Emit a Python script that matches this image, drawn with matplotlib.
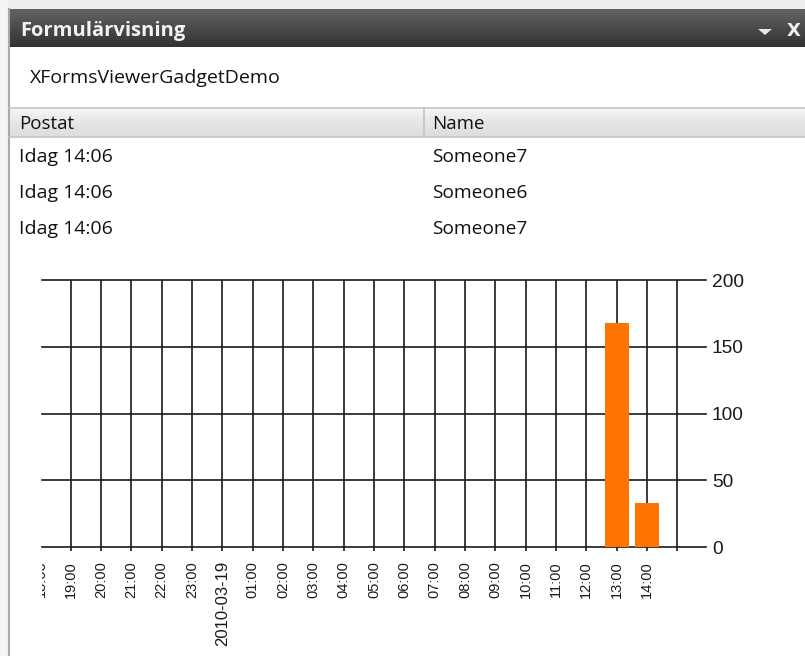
import matplotlib
matplotlib.use("Agg")
import matplotlib.pyplot as plt
import numpy as np
from matplotlib.patches import Rectangle, Polygon
from matplotlib.lines import Line2D
from matplotlib.transforms import Bbox
from matplotlib.colors import LinearSegmentedColormap

# ---------------- data ----------------
panel_title = "Formulärvisning"
form_name = "XFormsViewerGadgetDemo"
col_headers = ["Postat", "Name"]
posted = ["Idag 14:06", "Idag 14:06", "Idag 14:06"]
names = ["Someone7", "Someone6", "Someone7"]

hour_labels = ["18:00", "19:00", "20:00", "21:00", "22:00", "23:00", "2010-03-19",
               "01:00", "02:00", "03:00", "04:00", "05:00", "06:00", "07:00",
               "08:00", "09:00", "10:00", "11:00", "12:00", "13:00", "14:00", ""]
counts = [0, 0, 0, 0, 0, 0, 0, 0, 0, 0, 0, 0, 0, 0, 0, 0, 0, 0, 0, 168, 33, 0]
y_ticks = [0, 50, 100, 150, 200]

W, H = 805, 656
fig = plt.figure(figsize=(W / 100, H / 100), dpi=100)
fig.patch.set_facecolor("white")

def fx(x):
    return x / W

def fy(y):
    return 1 - y / H

ui_font = ["Open Sans", "DejaVu Sans"]

# background strips / borders
fig.add_artist(Rectangle((0, fy(9)), 1, 9 / H, transform=fig.transFigure,
                         facecolor="#eeeeee", edgecolor="none", zorder=0))
fig.add_artist(Rectangle((0, 0), fx(8), 1, transform=fig.transFigure,
                         facecolor="#f4f4f4", edgecolor="none", zorder=0))
fig.add_artist(Line2D([fx(9), fx(9)], [0, fy(9)], transform=fig.transFigure,
                      color="#a9a9a9", lw=1.5, zorder=3))

# header bar with gradient
hax = fig.add_axes([fx(9), fy(47), fx(W - 9), 38 / H])
grad = np.linspace(0, 1, 64).reshape(-1, 1)
cm = LinearSegmentedColormap.from_list("hdr", ["#636363", "#4a4a4a", "#323232"])
hax.imshow(grad, aspect="auto", cmap=cm, extent=[0, 1, 0, 1], origin="upper")
hax.set_axis_off()
fig.text(fx(20), fy(31), panel_title, color="#f2f2f2", fontsize=14.5,
         fontweight="bold", va="center", ha="left", family=ui_font)
fig.add_artist(Polygon([[fx(758), fy(29)], [fx(772), fy(29)], [fx(765), fy(35)]],
                       closed=True, transform=fig.transFigure,
                       facecolor="#e8e8e8", edgecolor="none", zorder=5))
fig.text(fx(794), fy(31.5), "X", color="#f0f0f0", fontsize=13, fontweight="bold",
         va="center", ha="center", family=["DejaVu Sans"])

# form name
fig.text(fx(30), fy(78), form_name, color="#111111", fontsize=14,
         va="center", ha="left", family=ui_font)

# table header
tax = fig.add_axes([fx(10), fy(137), fx(W - 10), 29 / H])
cm2 = LinearSegmentedColormap.from_list("th", ["#f6f6f6", "#e6e6e6", "#dddddd"])
tax.imshow(grad, aspect="auto", cmap=cm2, extent=[0, 1, 0, 1], origin="upper")
tax.set_axis_off()
for yy in (108, 137):
    fig.add_artist(Line2D([fx(9), 1], [fy(yy), fy(yy)], transform=fig.transFigure,
                          color="#c4c4c4", lw=1.2, zorder=3))
fig.add_artist(Line2D([fx(424), fx(424)], [fy(108), fy(137)], transform=fig.transFigure,
                      color="#c4c4c4", lw=1.2, zorder=3))
col_x = [19, 432]
for cx, h in zip(col_x, col_headers):
    fig.text(fx(cx), fy(124), h, color="#111111", fontsize=13.5, va="center",
             ha="left", family=ui_font)
row_y = [157, 193, 229]
for ry, p, n in zip(row_y, posted, names):
    fig.text(fx(col_x[0]), fy(ry), p, color="#111111", fontsize=14, va="center",
             ha="left", family=ui_font)
    fig.text(fx(col_x[1]), fy(ry), n, color="#111111", fontsize=13.8, va="center",
             ha="left", family=ui_font)

# ---------------- chart ----------------
ax = fig.add_axes([fx(42), fy(547), 664 / W, 267 / H])
hours = np.arange(len(hour_labels))
ax.bar(hours, counts, width=0.79, color="#ff7400", zorder=3)
ax.set_xlim(0.053, 21.95)
ax.set_ylim(0, 200)
for s in ax.spines.values():
    s.set_visible(False)
ax.set_axisbelow(True)
ax.grid(True, color="#1a1a1a", lw=1.2)
for gl in ax.get_ygridlines():
    gl.set_clip_on(False)

narrow = ["Liberation Sans Narrow", "Liberation Sans"]
ax.set_xticks(hours[1:])
ax.set_xticklabels(hour_labels[1:], rotation=90, family=narrow, fontsize=10.5)
for lab in ax.get_xticklabels():
    if "-" in lab.get_text():
        lab.set_fontsize(12)
        lab.set_family(["Liberation Sans"])
ax.tick_params(axis="x", direction="out", length=3, width=1.2, color="#1a1a1a",
               pad=7, labelcolor="#1a1a1a")

# left-clipped first label
t0 = ax.text(hours[0], -0.05, hour_labels[0], rotation=90, ha="center", va="top",
             transform=ax.get_xaxis_transform(), fontsize=10.5, color="#1a1a1a",
             family=narrow)
t0.set_clip_box(Bbox([[42, 0], [W, H]]))
t0.set_clip_on(True)

ax.yaxis.tick_right()
ax.set_yticks(y_ticks)
ax.set_yticklabels([str(v) for v in y_ticks], family=["Liberation Sans"], fontsize=13.8)
ax.tick_params(axis="y", length=0, pad=4.3, labelcolor="#1a1a1a")

fig.savefig("out.png", dpi=100)
